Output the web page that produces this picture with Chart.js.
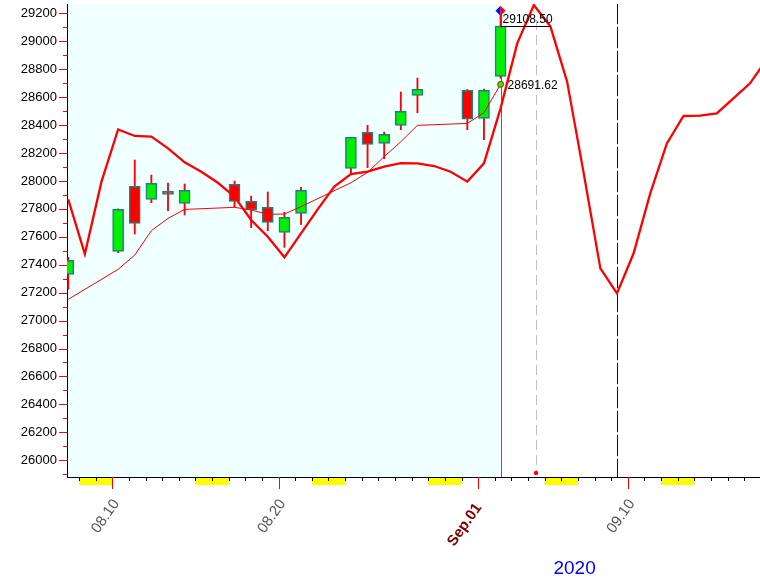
<!DOCTYPE html>
<html>
<head>
<meta charset="utf-8">
<script src="https://cdn.jsdelivr.net/npm/chart.js"></script>
<style>
  html, body { margin: 0; padding: 0; background: #fff; }
  #wrap { width: 760px; height: 580px; }
</style>
</head>
<body>
<div id="wrap"><canvas id="kChart" width="760" height="580"></canvas></div>
<script>
// 日K數據 (day = 8月的日子, 9月1日 = 32)
const candleDays = [7, 10, 11, 12, 13, 14, 17, 18, 19, 20, 21, 24, 25, 26, 27, 28, 31, 32, 33];
const opens  = [27331, 27496, 27961, 27868, 27925, 27839, 27975, 27854, 27811, 27632, 27768, 28090, 28348, 28269, 28398, 28613, 28649, 28448, 28749];
const highs  = [27453, 27800, 28150, 28042, 27985, 27978, 27999, 27892, 27921, 27775, 27954, 28312, 28398, 28350, 28637, 28737, 28655, 28658, 29190];
const lows   = [27224, 27486, 27620, 27844, 27787, 27756, 27811, 27665, 27644, 27524, 27689, 28052, 28095, 28159, 28367, 28489, 28367, 28295, 28735];
const closes = [27431, 27796, 27696, 27983, 27904, 27932, 27854, 27792, 27703, 27739, 27932, 28312, 28262, 28334, 28498, 28656, 28443, 28649, 29108.5];

// 均線
const maValues = [27152, 27367, 27469, 27644, 27732, 27796, 27811, 27792, 27761, 27763, 27816, 27987, 28061, 28174, 28281, 28398, 28412, 28489, 28691.62];

// 週期曲線 (每日)
const curveDays = [7, 8, 9, 10, 11, 12, 13, 14, 15, 16, 17, 18, 19, 20, 21, 22, 23, 24, 25, 26, 27, 28,
    29, 30, 31, 32, 33, 34, 35, 36, 37, 38, 39, 40, 41, 42, 43, 44, 45, 46, 47, 48, 49];
const curveValues = [27868, 27477, 27995, 28369, 28322, 28317, 28233, 28133, 28066, 27987, 27887, 27720,
    27601, 27453, 27625, 27796, 27959, 28049, 28066, 28102, 28128, 28126, 28107, 28066, 27995, 28126,
    28520, 28985, 29260, 29105, 28711, 28054, 27374, 27195, 27482, 27911, 28269, 28465, 28467, 28484,
    28591, 28699, 28870];

// 刻度標籤
const yTickValues = [26000, 26200, 26400, 26600, 26800, 27000, 27200, 27400, 27600, 27800,
    28000, 28200, 28400, 28600, 28800, 29000, 29200];
const tickDays = [10, 20, 32, 41];
const tickLabels = ['08.10', '08.20', 'Sep.01', '09.10'];
const weekendStarts = [8, 15, 22, 29, 36, 43];
const yearLabel = '2020';

const timeOffset = 0.35;      // K線在一天中的位置
const lastDay = 33;           // 最後一根K線 (9月2日)
const peakLineDay = 35.48;    // 灰色虛線
const troughLineDay = 40.35;  // 深藍虛線
const closeLineEnd = 36.35;

const bodyColors = candleDays.map((d, i) => closes[i] >= opens[i] ? '#00f000' : '#ff0000');

const decorPlugin = {
    id: 'decor',
    beforeDraw(chart) {
        const { ctx, chartArea: a, scales: { x } } = chart;
        ctx.save();
        ctx.fillStyle = '#f0ffff';
        const xr = x.getPixelForValue(lastDay + timeOffset);
        ctx.fillRect(a.left, a.top, xr - a.left, a.bottom - a.top);
        ctx.restore();
    },
    beforeDatasetsDraw(chart) {
        const { ctx, chartArea: a, scales: { x } } = chart;
        ctx.save();
        // 最後K線的豎線
        let px = Math.round(x.getPixelForValue(lastDay + timeOffset)) + 0.5;
        ctx.strokeStyle = '#2a8080';
        ctx.lineWidth = 1;
        ctx.beginPath(); ctx.moveTo(px, a.top + 10); ctx.lineTo(px, a.bottom); ctx.stroke();
        // 灰色虛線
        px = Math.round(x.getPixelForValue(peakLineDay)) + 0.5;
        ctx.strokeStyle = '#c0c0c0';
        ctx.setLineDash([10, 5]);
        ctx.beginPath(); ctx.moveTo(px, a.top + 16); ctx.lineTo(px, a.bottom - 4); ctx.stroke();
        // 深藍虛線 (中間帶黃色)
        px = Math.round(x.getPixelForValue(troughLineDay)) + 0.5;
        ctx.setLineDash([]);
        ctx.strokeStyle = '#000060';
        ctx.beginPath(); ctx.moveTo(px, a.top); ctx.lineTo(px, a.bottom); ctx.stroke();
        ctx.strokeStyle = '#ffff00';
        ctx.setLineDash([3, 21]);
        ctx.lineDashOffset = -20;
        ctx.beginPath(); ctx.moveTo(px, a.top); ctx.lineTo(px, a.bottom); ctx.stroke();
        ctx.restore();
    },
    afterDatasetsDraw(chart) {
        const { ctx, chartArea: a, scales: { x, y } } = chart;
        const n = candleDays.length - 1;
        const px = x.getPixelForValue(lastDay + timeOffset);
        ctx.save();
        // 收盤價標註
        const yc = Math.round(y.getPixelForValue(closes[n])) + 0.5;
        ctx.strokeStyle = '#000';
        ctx.lineWidth = 1;
        ctx.beginPath(); ctx.moveTo(px, yc); ctx.lineTo(x.getPixelForValue(closeLineEnd), yc); ctx.stroke();
        ctx.font = '12px Arial, "Liberation Sans", sans-serif';
        ctx.fillStyle = '#000';
        ctx.textAlign = 'left';
        ctx.textBaseline = 'bottom';
        ctx.fillText(closes[n].toFixed(2), px + 2, yc - 1);
        // 均線標註
        ctx.textBaseline = 'middle';
        ctx.fillText(maValues[n].toFixed(2), px + 7, y.getPixelForValue(maValues[n]) + 1);
        // 菱形標記
        const dy = y.getPixelForValue(highs[n]) - 4;
        ctx.fillStyle = '#0000ff';
        ctx.beginPath(); ctx.moveTo(px, dy - 5); ctx.lineTo(px - 5, dy); ctx.lineTo(px, dy + 5); ctx.closePath(); ctx.fill();
        ctx.fillStyle = '#ff0000';
        ctx.beginPath(); ctx.moveTo(px, dy - 5); ctx.lineTo(px + 5, dy); ctx.lineTo(px, dy + 5); ctx.closePath(); ctx.fill();
        // 底部紅點
        ctx.fillStyle = '#ff0000';
        ctx.beginPath(); ctx.arc(x.getPixelForValue(peakLineDay), a.bottom - 4, 2.2, 0, Math.PI * 2); ctx.fill();
        ctx.restore();
    },
    afterDraw(chart) {
        const { ctx, chartArea: a, scales: { x, y } } = chart;
        ctx.save();
        // y軸刻度
        ctx.strokeStyle = '#ff0000';
        ctx.lineWidth = 1;
        for (let v = Math.ceil(y.min / 100) * 100; v <= y.max; v += 100) {
            const py = Math.round(y.getPixelForValue(v)) + 0.5;
            const len = v % 200 === 0 ? 8 : 4;
            ctx.beginPath(); ctx.moveTo(a.left - len, py); ctx.lineTo(a.left, py); ctx.stroke();
        }
        // 週末
        ctx.fillStyle = '#ffff00';
        weekendStarts.forEach(d => {
            const x0 = x.getPixelForValue(d);
            const x1 = x.getPixelForValue(d + 2);
            ctx.fillRect(x0, a.bottom + 1, x1 - x0, 7);
        });
        // x軸每日刻度
        ctx.strokeStyle = '#000';
        for (let d = Math.ceil(x.min); d <= x.max; d++) {
            if (tickDays.includes(d)) continue;
            const p = Math.round(x.getPixelForValue(d)) + 0.5;
            ctx.beginPath(); ctx.moveTo(p, a.bottom); ctx.lineTo(p, a.bottom + 4); ctx.stroke();
        }
        ctx.strokeStyle = '#ff0000';
        tickDays.forEach(d => {
            const p = Math.round(x.getPixelForValue(d)) + 0.5;
            ctx.beginPath(); ctx.moveTo(p, a.bottom); ctx.lineTo(p, a.bottom + 12); ctx.stroke();
        });
        // x軸標籤
        tickDays.forEach((d, i) => {
            const bold = tickLabels[i].startsWith('Sep');
            const p = x.getPixelForValue(d);
            ctx.save();
            ctx.translate(p + (bold ? 0.5 : 4), a.bottom + (bold ? 28 : 24));
            ctx.rotate(-55 * Math.PI / 180);
            ctx.font = (bold ? 'bold ' : '') + '15px Arial, "Liberation Sans", sans-serif';
            ctx.fillStyle = bold ? '#800000' : '#555555';
            ctx.textAlign = 'right';
            ctx.textBaseline = 'middle';
            ctx.fillText(tickLabels[i], 0, 0);
            ctx.restore();
        });
        // 年份
        ctx.font = '19px Arial, "Liberation Sans", sans-serif';
        ctx.fillStyle = '#0000ff';
        ctx.textAlign = 'center';
        ctx.textBaseline = 'middle';
        ctx.fillText(yearLabel, x.getPixelForValue(37.8), 569);
        ctx.restore();
    }
};

const ctx = document.getElementById('kChart').getContext('2d');
new Chart(ctx, {
    type: 'bar',
    data: {
        datasets: [
            {
                type: 'line',
                data: curveDays.map((d, i) => ({ x: d + timeOffset, y: curveValues[i] })),
                borderColor: '#ff0000',
                borderWidth: 2.3,
                pointRadius: 0,
                tension: 0,
                order: 1
            },
            {
                type: 'line',
                data: candleDays.map((d, i) => ({ x: d + timeOffset, y: maValues[i] })),
                borderColor: '#ff0000',
                borderWidth: 1,
                pointRadius: maValues.map((v, i) => i === maValues.length - 1 ? 3 : 0),
                pointBackgroundColor: '#00ff00',
                pointBorderColor: '#ff0000',
                pointBorderWidth: 1,
                tension: 0,
                order: 2
            },
            {
                type: 'bar',
                data: candleDays.map((d, i) => ({ x: d + timeOffset, y: [opens[i], closes[i]] })),
                backgroundColor: bodyColors,
                borderColor: '#1a8080',
                borderWidth: 1.5,
                borderSkipped: false,
                barThickness: 11,
                grouped: false,
                order: 3
            },
            {
                type: 'bar',
                data: candleDays.map((d, i) => ({ x: d + timeOffset, y: [lows[i], highs[i]] })),
                backgroundColor: '#ff0000',
                borderWidth: 0,
                barThickness: 1.2,
                grouped: false,
                order: 4
            }
        ]
    },
    options: {
        responsive: false,
        animation: false,
        devicePixelRatio: 1,
        layout: { autoPadding: false, padding: { top: 4, left: 0, right: 0, bottom: 0 } },
        plugins: { legend: { display: false }, tooltip: { enabled: false } },
        scales: {
            x: {
                type: 'linear',
                min: 7.276,
                max: 48.95,
                offset: false,
                grid: { display: false },
                border: { display: true, color: '#000', width: 1 },
                ticks: { display: false },
                afterFit(s) { s.height = 103; s.paddingLeft = 0; s.paddingRight = 0; }
            },
            y: {
                type: 'linear',
                position: 'left',
                min: 25880,
                max: 29267,
                grid: { display: true, drawOnChartArea: false, drawTicks: false },
                border: { display: true, color: '#000', width: 1 },
                ticks: {
                    padding: 10,
                    color: '#000',
                    font: { family: 'Arial, "Liberation Sans", sans-serif', size: 13 },
                    callback: v => String(v)
                },
                afterBuildTicks(s) { s.ticks = yTickValues.map(v => ({ value: v })); },
                afterFit(s) { s.width = 67; s.paddingTop = 0; s.paddingBottom = 0; }
            }
        }
    },
    plugins: [decorPlugin]
});
</script>
</body>
</html>
